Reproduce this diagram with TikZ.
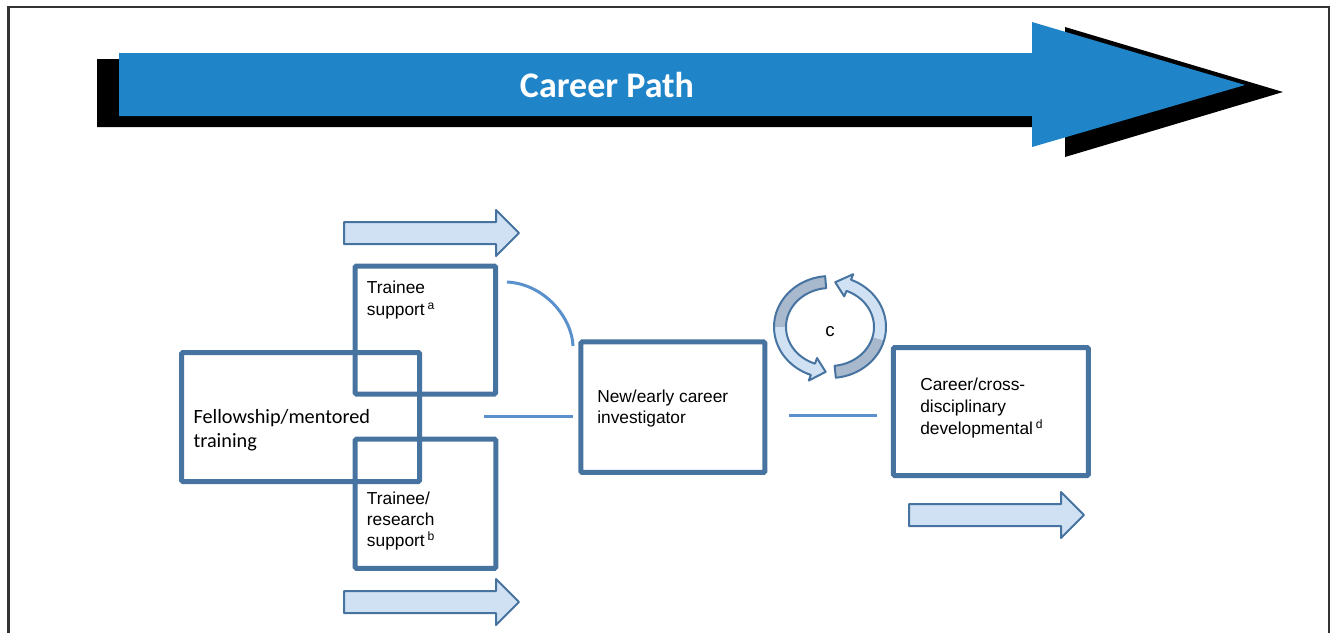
\documentclass[tikz,border=0pt]{standalone}
\usepackage{fontspec}
\setmainfont{Liberation Sans}
\newfontfamily\carlito{Carlito}
\usepackage{tikz}
\definecolor{boxblue}{RGB}{70,115,160}
\definecolor{linkblue}{RGB}{90,145,205}
\definecolor{pathblue}{RGB}{32,132,200}
\definecolor{pale}{RGB}{207,225,243}
\definecolor{greyblue}{RGB}{168,185,206}

\begin{document}
\begin{tikzpicture}[x=0.75pt, y=-0.75pt,
  box/.style={draw=boxblue, line width=3.75pt, minimum width=105.4pt, minimum height=96pt, inner sep=0pt, rounded corners=1pt},
  lbl/.style={anchor=base west, align=left, inner sep=0pt, font=\fontsize{13}{16.5}\selectfont},
  link/.style={draw=linkblue, line width=2.25pt},
  blockarrow/.style={draw=boxblue, fill=pale, line width=1.5pt, line join=round}]
\useasboundingbox (0,0) rectangle (1331,633);
% frame
\draw[line width=1.9pt, black!80] (8.5,633) -- (8.5,7) -- (1329,7) -- (1329,633);
% career path arrow + shadow
\fill[black] (97,59) -- (1065,59) -- (1065,27) -- (1283,92) -- (1065,157) -- (1065,127) -- (97,127) -- cycle;
\fill[pathblue] (119,53) -- (1032,53) -- (1032,22) -- (1245,85) -- (1032,147) -- (1032,116) -- (119,116) -- cycle;
\node[anchor=base, text=white, font=\carlito\bfseries\fontsize{27}{30}\selectfont] (path) at (607,97) {Career Path};

% boxes
\node[box] (trainee) at (425.3,330) {};
\node[box, minimum width=178.5pt, minimum height=96.75pt] (fellow) at (300.6,417) {};
\node[box, minimum height=97pt] (research) at (425.5,503.7) {};
\node[box, minimum width=138pt, minimum height=97.9pt] (newinv) at (672.9,407.2) {};
\node[box, minimum width=146.25pt] (career) at (990.8,411.5) {};

% texts (anchored on the last line)
\node[lbl] (traineetxt) at (366.7,315) {Trainee\\support\,\textsuperscript{a}};
\node[lbl, font=\carlito\fontsize{15.2}{18}\selectfont] (fellowtxt) at (193.3,447.3) {Fellowship/mentored\\training};
\node[lbl, font=\fontsize{13}{16}\selectfont] (researchtxt) at (366.7,546.7) {Trainee/\\research\\support\,\textsuperscript{b}};
\node[lbl, font=\fontsize{13}{15.75}\selectfont] (newtxt) at (597,423.5) {New/early career\\investigator};
\node[lbl] (careertxt) at (920,434) {Career/cross-\\disciplinary\\developmental\,\textsuperscript{d}};

% links
\coordinate (l1) at (484,416);
\coordinate (l2) at (789,415);
\coordinate (c1) at (507,282);
\coordinate (c2) at (573,346);
\draw[link, shorten >=4pt] (l1) -- (newinv.west |- l1);
\draw[link, shorten >=10.4pt] (l2) -- (career.west |- l2);
\draw[link] (c1) .. controls (545,284) and (572,318) .. (c2);

% block arrows
\foreach \x/\y in {344/233, 344/602, 909/515}
  \draw[blockarrow] (\x,\y-11) -- ++(152,0) -- ++(0,-12) -- ++(23,23) -- ++(-23,23) -- ++(0,-12) -- ++(-152,0) -- cycle;

% cycle arrows round c
\foreach \st/\md/\hd/\tip in {265/180/110/95, 84/15/-68/-84} {
  \fill[greyblue] plot[domain=\st:\md, samples=20] ({830+56*cos(\x)},{327+51*sin(\x)})
    -- plot[domain=\md:\st, samples=20] ({830+44*cos(\x)},{327+39*sin(\x)}) -- cycle;
  \fill[pale] plot[domain=\md:\hd, samples=20] ({830+56*cos(\x)},{327+51*sin(\x)})
    -- ({830+62*cos(\hd)},{327+57*sin(\hd)}) -- ({830+50*cos(\tip)},{327+45*sin(\tip)})
    -- ({830+38*cos(\hd)},{327+33*sin(\hd)})
    -- plot[domain=\hd:\md, samples=20] ({830+44*cos(\x)},{327+39*sin(\x)}) -- cycle;
  \draw[boxblue, line width=1.5pt, line join=round] plot[domain=\st:\hd, samples=40] ({830+56*cos(\x)},{327+51*sin(\x)})
    -- ({830+62*cos(\hd)},{327+57*sin(\hd)}) -- ({830+50*cos(\tip)},{327+45*sin(\tip)})
    -- ({830+38*cos(\hd)},{327+33*sin(\hd)})
    -- plot[domain=\hd:\st, samples=40] ({830+44*cos(\x)},{327+39*sin(\x)}) -- cycle;
}
\node[font=\fontsize{14}{16}\selectfont] (cyc) at (830,332) {c};
\end{tikzpicture}
\end{document}
